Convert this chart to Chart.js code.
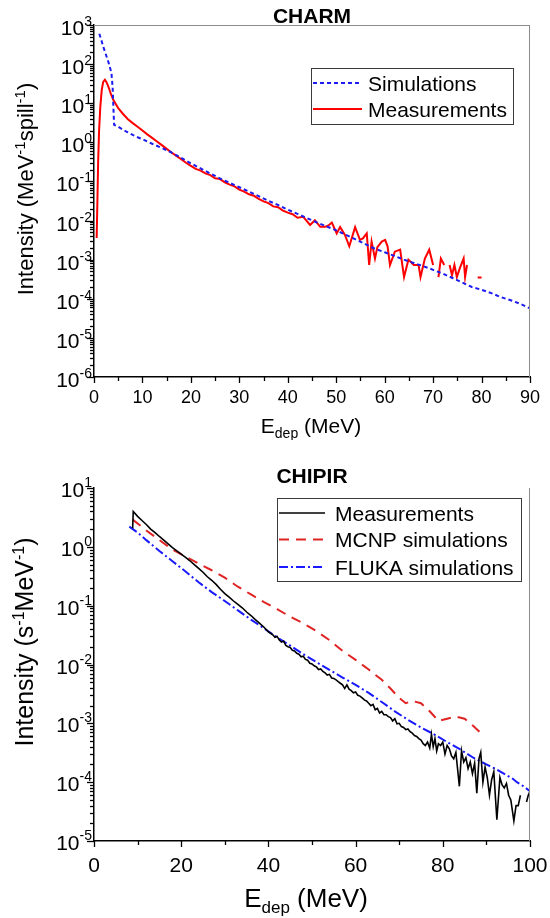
<!DOCTYPE html>
<html><head><meta charset="utf-8">
<script src="https://cdn.jsdelivr.net/npm/chart.js@4.4.0/dist/chart.umd.min.js"></script>
<style>
html,body{margin:0;padding:0;background:#fff;}
#w{position:relative;width:550px;height:918px;overflow:hidden;}
#c1{position:absolute;left:0;top:0;}
#c2{position:absolute;left:0;top:440px;}
</style></head><body>
<div id="w"><canvas id="c1" width="550" height="440"></canvas><canvas id="c2" width="550" height="478"></canvas></div>
<script>
// ---------------- CHARM (top) ----------------
const charmXTicks = [0,10,20,30,40,50,60,70,80,90];
const charmYDecades = [-6,-5,-4,-3,-2,-1,0,1,2,3];
const charmSimE = [1.1,2.0,3.0,3.6,3.85,4.0,4.15,5,6,7,8,9,10,12,14,16,18,20,22,24,26,28,30,32,34,36,38,40,42,44,46,48,50,52,54,56,58,60,62,64,66,68,70,72,74,76,78,80,82,84,86,88,90];
const charmSimI = [600,260,110,60,25,8,2.8,2.5,2.1,1.8,1.55,1.35,1.2,0.92,0.72,0.55,0.4,0.29,0.215,0.16,0.12,0.092,0.071,0.055,0.042,0.032,0.025,0.019,0.0148,0.0115,0.0089,0.0071,0.0056,0.0043,0.0033,0.0025,0.0019,0.00155,0.00125,0.001,0.00082,0.00068,0.00055,0.00044,0.00034,0.00026,0.0002,0.00017,0.00014,0.00011,0.000092,0.000074,0.000057];
const charmMeasE = [0.55,0.7,0.85,1.05,1.3,1.6,1.9,2.25,2.6,3.0,3.5,4.0,5,6,7,8,9,10,11,12,13,14,15,16,17,18,19,20,21,22,23,24,25,26,27,28,29,30,31,32,33,34,35,36,37,38,39,40,41,42,43.2,44.6,45.6,46.7,47.7,48.4,49.1,50.1,50.8,51.8,52.7,53.9,54.9,55.5,56.3,56.8,57.3,58.0,58.5,59.4,60.1,60.6,61.1,62.1,63.2,64.0,64.9,66.0,67.0,67.4,68.3,69.2,70.0,70.5,71.1,71.6,72.3,72.8,73.4,73.9,74.4,74.9,75.5,76.3,76.6,77.0,78.0,79.2,80.0];
const charmMeasI = [0.0036,0.03,0.3,2,8,22,35,40,34,26,17,12,7.5,5.3,3.9,3.1,2.5,2.0,1.6,1.3,1.05,0.85,0.68,0.55,0.45,0.37,0.3,0.25,0.21,0.19,0.16,0.145,0.12,0.115,0.095,0.083,0.075,0.062,0.055,0.047,0.043,0.036,0.031,0.028,0.023,0.022,0.018,0.016,0.0145,0.0118,0.0125,0.0077,0.0102,0.0069,0.0069,0.0075,0.0089,0.0047,0.0068,0.0043,0.0022,0.0068,0.0032,0.0035,0.0047,0.00073,0.0029,0.00107,0.0021,0.0029,0.0032,0.0022,0.00073,0.0016,0.0018,0.00036,0.001,0.00073,0.00073,0.00036,0.00107,0.0018,0.00073,null,0.00036,0.00107,0.00073,null,0.00073,0.0004,0.00073,0.00036,0.0006,0.00107,0.00036,0.00073,null,0.00035,0.00035];

// ---------------- CHIPIR (bottom) ----------------
const chipirXTicks = [0,20,40,60,80,100];
const chipirYDecades = [-5,-4,-3,-2,-1,0,1];
const chipirMeasE = [8.87,9.0,10,11,12,13,14,15,16,17,18,19,20,21,22,23,24,25,26,27,28,29,30,31,32,33,34,35,36,37,38,39,40,41,41.5,42,42.5,43,43.5,44,44.5,45,45.5,46,46.5,47,47.5,48,48.5,49,49.5,50,50.5,51,51.5,52,52.5,53,53.5,54,54.5,55,55.5,56,56.5,57,57.5,58,58.5,59,59.5,60,60.5,61,61.5,62,62.5,63,63.5,64,64.5,65,65.5,66,66.5,67,67.5,68,68.5,69,69.5,70,70.5,71,71.5,72,72.5,73,73.5,74,74.5,75,75.5,76,76.5,77,77.4,77.8,78.2,78.6,79,79.5,80,80.5,81,81.5,82,82.5,83,83.8,84.3,84.8,85.3,85.8,86.3,86.8,87.3,87.8,88.3,88.7,89.2,89.7,90.2,90.7,91.2,91.7,92.4,93.1,93.6,94.1,94.6,95.1,95.6,96.3,96.8,97.3,97.8,98.3,99.2,99.6,100];
const chipirMeasI = [2.07,4.0,3.3,2.8,2.4,2.0,1.75,1.5,1.3,1.12,0.97,0.85,0.75,0.66,0.58,0.5,0.43,0.37,0.31,0.27,0.23,0.19,0.16,0.14,0.12,0.105,0.092,0.078,0.068,0.058,0.05,0.043,0.036,0.032,0.029,0.03,0.026,0.024,0.025,0.021,0.02,0.0195,0.0175,0.017,0.0155,0.015,0.0135,0.0138,0.0122,0.0118,0.0105,0.0102,0.0095,0.0091,0.0082,0.0084,0.0076,0.0072,0.0066,0.0068,0.0059,0.0058,0.0055,0.0051,0.0048,0.0045,0.0039,0.0045,0.0038,0.0036,0.0033,0.0034,0.003,0.0029,0.0027,0.0025,0.0024,0.0022,0.002,0.0021,0.0017,0.0018,0.0015,0.0016,0.0014,0.0014,0.0013,0.00125,0.0011,0.0012,0.00098,0.001,0.00088,0.00085,0.00078,0.0008,0.00072,0.00068,0.00062,0.0006,0.00055,0.00052,0.00045,0.00042,0.00048,0.00038,0.00065,0.0004,0.00055,0.00034,0.00045,0.00042,0.00048,0.0003,0.00042,0.00037,0.00028,0.00025,0.00032,0.000085,0.00034,0.00022,0.00026,0.00017,0.00022,0.00014,0.00021,0.000065,0.00025,0.00032,0.0001,0.00018,0.00012,0.00006,0.00011,0.00015,0.000023,0.00012,0.00009,0.00008,0.000095,0.00006,0.00005,0.000022,0.00004,0.00004,0.00006,null,0.000046,0.00006,0.00007];
const mcnpE = [8.87,12,15,18,21,24,27,30,33,36,39,42,45,48,51,54,57,60,63,66,68,70,71.5,73,75,77,79,81,83,85,87,89.5];
const mcnpI = [2.9,1.9,1.3,0.9,0.68,0.52,0.4,0.3,0.21,0.155,0.115,0.087,0.065,0.05,0.037,0.026,0.017,0.012,0.0082,0.0055,0.0039,0.0027,0.0022,0.0024,0.0022,0.0016,0.0011,0.0012,0.0013,0.0012,0.0009,0.0006];
const flukaE = [8.1,10,12,15,18,21,24,27,30,33,36,39,42,45,48,51,54,57,60,63,66,69,72,75,78,81,84,87,90,92,94,96,97,98,99,100];
const flukaI = [2.2,1.75,1.3,0.85,0.57,0.38,0.25,0.17,0.12,0.083,0.058,0.041,0.029,0.021,0.015,0.011,0.0081,0.006,0.0045,0.0033,0.0023,0.0016,0.00115,0.00085,0.00065,0.00048,0.00036,0.00026,0.0002,0.00017,0.00014,0.000115,0.0001,0.00009,0.00008,0.00007];

const FONT = '"Liberation Sans", Arial, sans-serif';
function setFont(ctx, size, bold){ ctx.font = (bold?'bold ':'') + size + 'px ' + FONT; }
function richWidth(ctx, parts){ let w=0; for (const p of parts){ setFont(ctx,p.s,p.b); w += ctx.measureText(p.t).width; } return w; }
function drawRich(ctx, parts, x, y, align){
  const w = richWidth(ctx, parts);
  let cx = align==='right' ? x-w : align==='center' ? x-w/2 : x;
  ctx.textAlign='left'; ctx.textBaseline='alphabetic';
  for (const p of parts){ setFont(ctx,p.s,p.b); ctx.fillText(p.t, cx, y + (p.dy||0)); cx += ctx.measureText(p.t).width; }
}
function pts(xs, ys){ return xs.map((x,i)=>({x:x, y:ys[i]})); }
function seg(ctx,x1,y1,x2,y2){ ctx.beginPath(); ctx.moveTo(x1,y1); ctx.lineTo(x2,y2); ctx.stroke(); }

function decorPlugin(cfg){
  return {
    id: 'decor_' + cfg.name,
    afterDraw(chart){
      const ctx = chart.ctx, xs = chart.scales.x, ys = chart.scales.y, a = chart.chartArea;
      ctx.save();
      ctx.fillStyle = '#000';
      // frame (gray top/right)
      ctx.strokeStyle = '#8c8c8c'; ctx.lineWidth = 1; ctx.setLineDash([]);
      if (cfg.frameTop) seg(ctx, a.left, a.top+0.5, a.right, a.top+0.5);
      seg(ctx, a.right-0.5, a.top, a.right-0.5, a.bottom);
      // x ticks
      ctx.strokeStyle = '#000'; ctx.lineWidth = 1.3;
      const t = cfg.xTicks, step = (t[1]-t[0])/2;
      for (let v = t[0]; v <= t[t.length-1]+1e-9; v += step){
        const px = Math.round(xs.getPixelForValue(v))+0.5;
        const major = t.indexOf(Math.round(v*1000)/1000) >= 0;
        seg(ctx, px, a.bottom, px, a.bottom + (major?6:4));
      }
      // y ticks
      const d = cfg.yDec;
      for (let i=0;i<d.length;i++){
        for (let m=1;m<=9;m++){
          if (i===d.length-1 && m>1) break;
          const py = Math.round(ys.getPixelForValue(m*Math.pow(10,d[i])))+0.5;
          seg(ctx, a.left-(m===1?7:4), py, a.left, py);
        }
      }
      ctx.fillStyle = '#000';
      // x labels
      for (const v of t){
        setFont(ctx, cfg.xFont); ctx.textAlign='center'; ctx.textBaseline='alphabetic';
        ctx.fillText(String(v), xs.getPixelForValue(v), cfg.xLabBase);
      }
      // y labels
      for (const e of d){
        const py = ys.getPixelForValue(Math.pow(10,e));
        drawRich(ctx, [{t:'10', s:cfg.yFont},{t:String(e), s:cfg.ySup, dy:cfg.yDy}], 92, py+cfg.yBaseOff, 'right');
      }
      // axis titles
      drawRich(ctx, cfg.xTitle, cfg.xTitleX, cfg.xTitleY, 'center');
      ctx.save(); ctx.translate(cfg.yTitleX, cfg.yTitleY); ctx.rotate(-Math.PI/2);
      drawRich(ctx, cfg.yTitle, 0, 0, 'center'); ctx.restore();
      // chart title
      drawRich(ctx, [{t:cfg.title, s:21, b:true}], 312, cfg.titleY, 'center');
      // legend
      const L = cfg.legend;
      ctx.strokeStyle = '#3a3a3a'; ctx.lineWidth = 1; ctx.setLineDash([]);
      ctx.strokeRect(L.x+0.5, L.y+0.5, L.w, L.h);
      chart.data.datasets.forEach((ds, i) => {
        const yy = L.rows[i];
        ctx.strokeStyle = ds.borderColor; ctx.lineWidth = ds.borderWidth; ctx.setLineDash(ds.borderDash || []);
        seg(ctx, L.lx1, yy, L.lx2, yy);
        ctx.setLineDash([]);
        drawRich(ctx, [{t:ds.label, s:21}], L.tx, yy+7.5, 'left');
      });
      ctx.restore();
    }
  };
}

function makeChart(el, datasets, xmax, ymin, ymax, padTop, xH, plugin){
  return new Chart(el, {
    type: 'line',
    data: { datasets: datasets },
    options: {
      responsive: false, animation: false, devicePixelRatio: 1,
      layout: { padding: { top: padTop, right: 20, left: 0, bottom: 0 } },
      plugins: { legend: { display: false }, tooltip: { enabled: false } },
      elements: { point: { radius: 0 }, line: { tension: 0 } },
      scales: {
        x: { type: 'linear', min: 0, max: xmax, grid: { display: false }, ticks: { display: false },
             border: { display: true, color: '#000', width: 1.5 }, afterFit(s){ s.height = xH; } },
        y: { type: 'logarithmic', min: ymin, max: ymax, grid: { display: false }, ticks: { display: false },
             border: { display: true, color: '#000', width: 1.5 }, afterFit(s){ s.width = 94; } }
      }
    },
    plugins: [plugin]
  });
}

makeChart(document.getElementById('c1'), [
  { label: 'Simulations', data: pts(charmSimE, charmSimI), borderColor: '#1c1cf0', borderWidth: 2, borderDash: [4,3], pointRadius: 0, fill: false },
  { label: 'Measurements', data: pts(charmMeasE, charmMeasI), borderColor: '#ff0000', borderWidth: 2, pointRadius: 0, fill: false, spanGaps: false }
], 90, 1e-6, 1e3, 25, 63, decorPlugin({
  name: 'charm', frameTop: true, xTicks: charmXTicks, yDec: charmYDecades,
  xFont: 18, xLabBase: 403, yFont: 21, ySup: 14, yDy: -9, yBaseOff: 10,
  xTitle: [{t:'E', s:21},{t:'dep', s:14, dy:5},{t:' (MeV)', s:21}], xTitleX: 311, xTitleY: 433,
  yTitle: [{t:'Intensity (MeV', s:22},{t:'-1', s:15, dy:-8},{t:'spill', s:22},{t:'-1', s:15, dy:-8},{t:')', s:22}], yTitleX: 33, yTitleY: 189,
  title: 'CHARM', titleY: 23,
  legend: { x: 311, y: 68, w: 202, h: 56, rows: [83, 109], lx1: 313, lx2: 362, tx: 368 }
}));

makeChart(document.getElementById('c2'), [
  { label: 'Measurements', data: pts(chipirMeasE, chipirMeasI), borderColor: '#000000', borderWidth: 1.6, pointRadius: 0, fill: false, spanGaps: false },
  { label: 'MCNP simulations', data: pts(mcnpE, mcnpI), borderColor: '#e02424', borderWidth: 2, borderDash: [10,7], pointRadius: 0, fill: false },
  { label: 'FLUKA simulations', data: pts(flukaE, flukaI), borderColor: '#1a1aff', borderWidth: 2, borderDash: [9,3,2,3], pointRadius: 0, fill: false }
], 100, 1e-5, 1e1, 48, 77, decorPlugin({
  name: 'chipir', frameTop: false, xTicks: chipirXTicks, yDec: chipirYDecades,
  xFont: 21, xLabBase: 432, yFont: 21, ySup: 14, yDy: -10, yBaseOff: 9,
  xTitle: [{t:'E', s:26},{t:'dep', s:17, dy:6},{t:' (MeV)', s:26}], xTitleX: 306, xTitleY: 467,
  yTitle: [{t:'Intensity (s', s:25},{t:'-1', s:16, dy:-9},{t:'MeV', s:25},{t:'-1', s:16, dy:-9},{t:')', s:25}], yTitleX: 33, yTitleY: 202,
  title: 'CHIPIR', titleY: 43,
  legend: { x: 277, y: 58, w: 244, h: 83, rows: [73, 99.5, 127], lx1: 279, lx2: 325, tx: 335 }
}));
</script>
</body></html>
